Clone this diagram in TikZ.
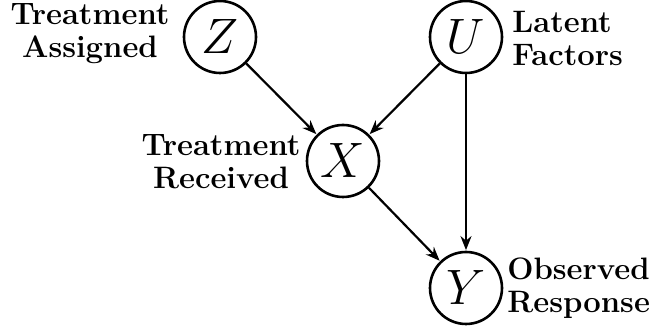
\documentclass[tikz,border=0pt]{standalone}
\usetikzlibrary{arrows.meta}
\begin{document}
\begin{tikzpicture}[x=0.5pt,y=-0.5pt,
  var/.style={circle,draw,line width=1.3pt,minimum size=36pt,inner sep=0pt,font=\fontsize{26}{26}\selectfont},
  lab/.style={font=\bfseries\fontsize{15.5}{16.5}\selectfont,inner sep=0pt},
  arr/.style={-{Stealth[length=7pt,width=5.5pt]},line width=1.1pt,shorten >=0.3pt}]
\path[use as bounding box] (0,0) rectangle (649,330);
\node[var] (Z) at (220,37) {$Z$};
\node[var] (U) at (466,37) {$U$};
\node[var] (X) at (343,161) {$X$};
\node[var] (Y) at (466,288) {$Y$};
\node[lab,align=center] (la) at (90,34) {Treatment\\Assigned};
\node[lab,align=left,anchor=west] (lu) at (512,38) {Latent\\Factors};
\node[lab,align=center] (lx) at (221,162) {Treatment\\Received};
\node[lab,align=left,anchor=west] (ly) at (507,288) {Observed\\Response};
\draw[arr] (Z) -- (X);
\draw[arr] (U) -- (X);
\draw[arr] (X) -- (Y);
\draw[arr] (U) -- (Y);
\end{tikzpicture}
\end{document}
